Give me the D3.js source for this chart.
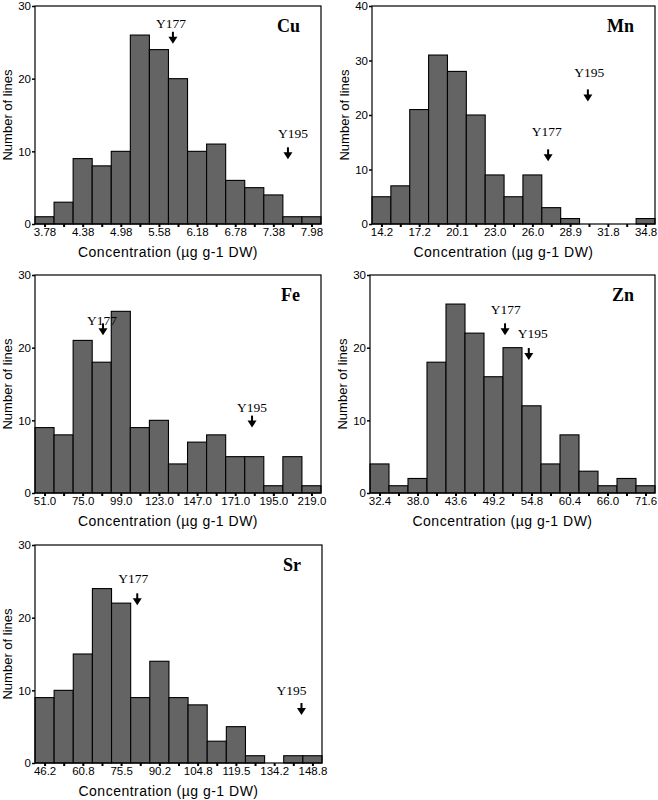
<!DOCTYPE html>
<html>
<head>
<meta charset="utf-8">
<script src="https://cdn.jsdelivr.net/npm/d3@7"></script>
<style>
  body { margin: 0; background: #fff; }
  svg text { fill: #000; }
  .tick text { font-family: "Liberation Sans", Arial, sans-serif; font-size: 11.5px; }
</style>
</head>
<body>
<svg id="fig" width="658" height="800"></svg>
<script>
// histogram counts, 15 bins per element
var cuCounts = [1, 3, 9, 8, 10, 26, 24, 20, 10, 11, 6, 5, 4, 1, 1];
var mnCounts = [5, 7, 21, 31, 28, 20, 9, 5, 9, 3, 1, 0, 0, 0, 1];
var feCounts = [9, 8, 21, 18, 25, 9, 10, 4, 7, 8, 5, 5, 1, 5, 1];
var znCounts = [4, 1, 2, 18, 26, 22, 16, 20, 12, 4, 8, 3, 1, 2, 1];
var srCounts = [9, 10, 15, 24, 22, 9, 14, 9, 8, 3, 5, 1, 0, 1, 1];

// tick labels (every other bin centre)
var cuTicks = ["3.78", "4.38", "4.98", "5.58", "6.18", "6.78", "7.38", "7.98"];
var mnTicks = ["14.2", "17.2", "20.1", "23.0", "26.0", "28.9", "31.8", "34.8"];
var feTicks = ["51.0", "75.0", "99.0", "123.0", "147.0", "171.0", "195.0", "219.0"];
var znTicks = ["32.4", "38.0", "43.6", "49.2", "54.8", "60.4", "66.0", "71.6"];
var srTicks = ["46.2", "60.8", "75.5", "90.2", "104.8", "119.5", "134.2", "148.8"];

// lines marked with arrows: concentration, arrow tip (count), label x, label baseline (count)
var cuMarks = [["Y177", 5.80, 24.8, 5.77, 27.0], ["Y195", 7.61, 8.9, 7.69, 11.9]];
var mnMarks = [["Y177", 27.2, 11.5, 27.1, 16.1], ["Y195", 30.3, 22.5, 30.4, 27.0]];
var feMarks = [["Y177", 87.8, 21.7, 87.2, 23.1], ["Y195", 181.6, 9.0, 181.6, 11.2]];
var znMarks = [["Y177", 50.9, 21.7, 51.0, 24.6], ["Y195", 54.4, 18.3, 55.0, 21.3]];
var srMarks = [["Y177", 81.7, 21.7, 80.2, 24.8], ["Y195", 144.6, 6.6, 140.8, 9.4]];

var yMax = [30, 40, 30, 30, 30];

var panels = [
  {name: "Cu", counts: cuCounts, ticks: cuTicks, marks: cuMarks, ymax: yMax[0], left: 35, top: 6, w: 286},
  {name: "Mn", counts: mnCounts, ticks: mnTicks, marks: mnMarks, ymax: yMax[1], left: 372, top: 6, w: 283},
  {name: "Fe", counts: feCounts, ticks: feTicks, marks: feMarks, ymax: yMax[2], left: 35, top: 275, w: 286},
  {name: "Zn", counts: znCounts, ticks: znTicks, marks: znMarks, ymax: yMax[3], left: 370, top: 275, w: 285},
  {name: "Sr", counts: srCounts, ticks: srTicks, marks: srMarks, ymax: yMax[4], left: 35, top: 545, w: 287}
];
var H = 218;

var svg = d3.select("#fig");

panels.forEach(function(p) {
  var n = p.counts.length;
  var first = +p.ticks[0], last = +p.ticks[p.ticks.length - 1];
  var bw = (last - first) / (n - 1);
  var lo = first - bw / 2;

  var x = d3.scaleLinear().domain([lo, lo + n * bw]).range([0, p.w]);
  var y = d3.scaleLinear().domain([0, p.ymax]).range([H, 0]);

  var g = svg.append("g").attr("transform", "translate(" + p.left + "," + p.top + ")");

  // bars (empty bins are not drawn)
  g.selectAll("rect.bar")
    .data(p.counts)
    .enter().append("rect")
      .attr("class", "bar")
      .attr("x", function(d, i) { return x(lo + i * bw); })
      .attr("width", function() { return x(lo + bw) - x(lo); })
      .attr("y", function(d) { return y(d); })
      .attr("height", function(d) { return H - y(d); })
      .attr("display", function(d) { return d > 0 ? null : "none"; })
      .attr("fill", "#646464")
      .attr("stroke", "#000")
      .attr("stroke-width", 1.1);

  // frame
  g.append("rect")
    .attr("x", 0).attr("y", 0).attr("width", p.w).attr("height", H)
    .attr("fill", "none").attr("stroke", "#000").attr("stroke-width", 1.2);

  // x axis: ticks at each bin centre, labels every other bin
  var centres = p.counts.map(function(d, i) { return first + i * bw; });
  var xAxis = d3.axisBottom(x).tickValues(centres).tickSize(3).tickPadding(1)
    .tickFormat(function(d, i) { return i % 2 === 0 ? p.ticks[i / 2] : ""; });
  var xg = g.append("g").attr("transform", "translate(0," + H + ")").call(xAxis);
  xg.select(".domain").remove();
  xg.selectAll(".tick line").attr("stroke-width", 2);

  var yAxis = d3.axisLeft(y).ticks(p.ymax / 10).tickSize(3).tickPadding(1);
  var yg = g.append("g").call(yAxis);
  yg.select(".domain").remove();
  yg.selectAll(".tick line").attr("stroke-width", 1.5);

  // axis titles
  g.append("text")
    .attr("x", p.w / 2 - 10).attr("y", H + 33)
    .attr("text-anchor", "middle")
    .style("font-family", "'Liberation Sans', Arial, sans-serif")
    .style("font-size", "14px")
    .style("letter-spacing", "0.5px")
    .text("Concentration (\u00b5g g-1 DW)");

  g.append("text")
    .attr("transform", "translate(-23," + (H / 2) + ") rotate(-90)")
    .attr("text-anchor", "middle")
    .style("font-family", "'Liberation Sans', Arial, sans-serif")
    .style("font-size", "13px")
    .text("Number of lines");

  // element name
  g.append("text")
    .attr("x", p.w - 21).attr("y", 26)
    .attr("text-anchor", "end")
    .style("font-family", "'Liberation Serif', 'Times New Roman', serif")
    .style("font-weight", "bold")
    .style("font-size", "18px")
    .text(p.name);

  // arrows + labels
  p.marks.forEach(function(m) {
    var ax = x(m[1]), ty = y(m[2]);
    g.append("line")
      .attr("x1", ax).attr("x2", ax).attr("y1", ty - 12).attr("y2", ty - 5)
      .attr("stroke", "#000").attr("stroke-width", 2);
    g.append("path")
      .attr("d", "M" + (ax - 4.5) + "," + (ty - 7) + "L" + (ax + 4.5) + "," + (ty - 7) + "L" + ax + "," + ty + "Z")
      .attr("fill", "#000");
    g.append("text")
      .attr("x", x(m[3])).attr("y", y(m[4]))
      .attr("text-anchor", "middle")
      .style("font-family", "'Liberation Serif', 'Times New Roman', serif")
      .style("font-size", "13.5px")
      .text(m[0]);
  });
});
</script>
</body>
</html>
